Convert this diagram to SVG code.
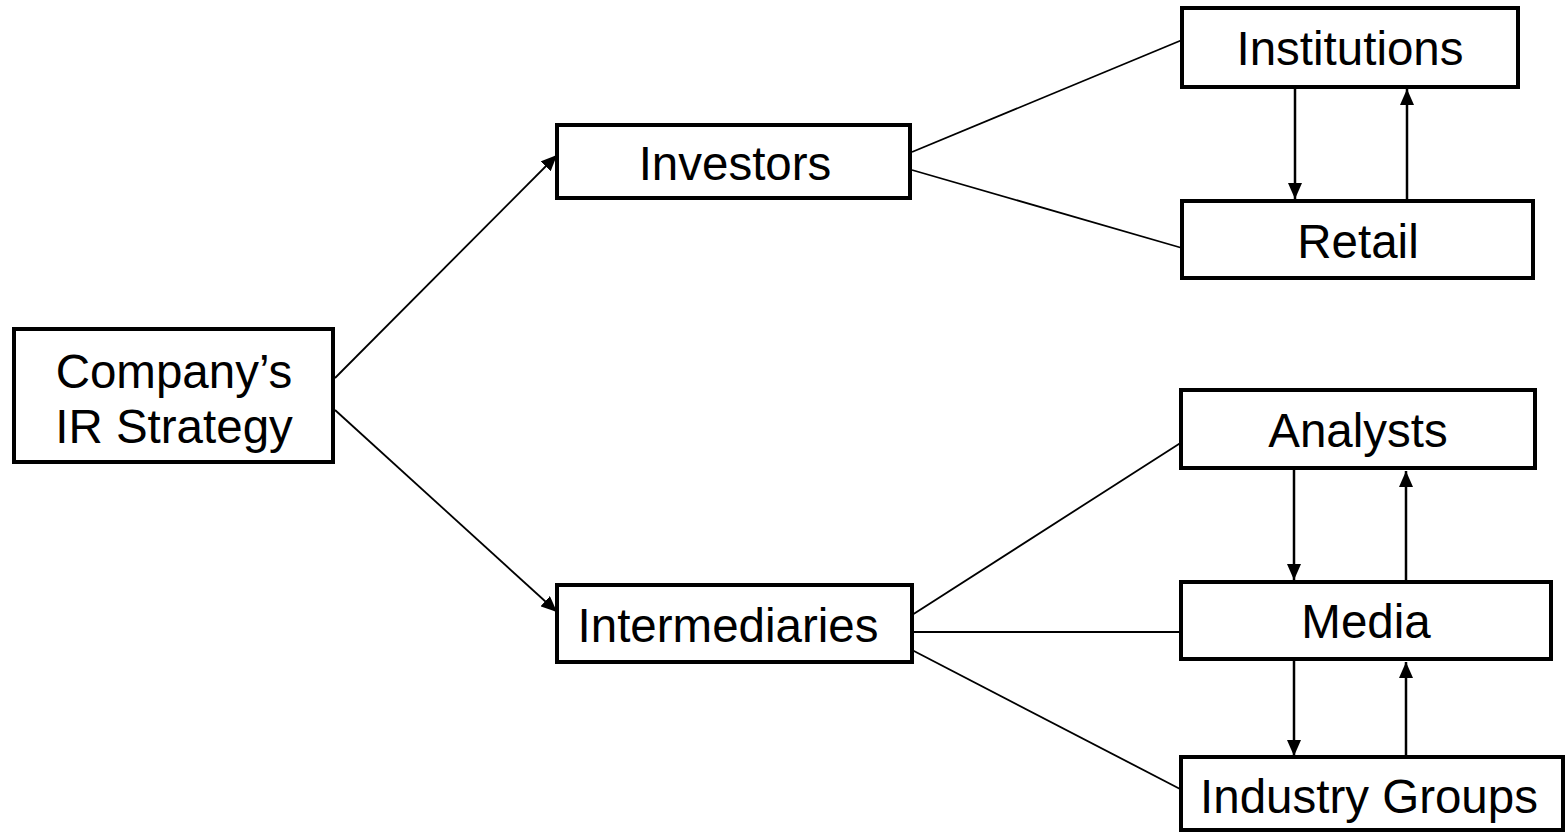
<svg xmlns="http://www.w3.org/2000/svg" width="1566" height="832" viewBox="0 0 1566 832">
<style>
.box{fill:#fff;stroke:#000;stroke-width:4}
.lbl{font-family:"Liberation Sans",Arial,sans-serif;font-size:47.5px;fill:#000;text-anchor:middle}
.ln{stroke:#000;stroke-width:1.8;fill:none}
.ar{stroke:#000;stroke-width:2.5;fill:none;marker-end:url(#ah)}
.ard{stroke:#000;stroke-width:1.8;fill:none;marker-end:url(#ah)}
</style>
<defs>
<marker id="ah" markerUnits="userSpaceOnUse" markerWidth="16" markerHeight="14" viewBox="0 0 16 14" refX="16" refY="7" orient="auto">
<path d="M0,0 L16,7 L0,14 Z" fill="#000"/>
</marker>
</defs>
<rect width="1566" height="832" fill="#fff"/>
<g id="connectors">
<line class="ard" x1="335" y1="378" x2="557" y2="155"/>
<line class="ard" x1="335" y1="410" x2="557" y2="612"/>
<line class="ln" x1="912" y1="152" x2="1182" y2="40"/>
<line class="ln" x1="912" y1="170" x2="1182" y2="248"/>
<line class="ln" x1="912" y1="615" x2="1182" y2="442"/>
<line class="ln" x1="912" y1="632" x2="1182" y2="632"/>
<line class="ln" x1="912" y1="650" x2="1182" y2="790"/>
<line class="ar" x1="1295" y1="88" x2="1295" y2="199"/>
<line class="ar" x1="1407" y1="200" x2="1407" y2="89"/>
<line class="ar" x1="1294" y1="469" x2="1294" y2="580"/>
<line class="ar" x1="1406" y1="582" x2="1406" y2="471"/>
<line class="ar" x1="1294" y1="660" x2="1294" y2="756"/>
<line class="ar" x1="1406" y1="757" x2="1406" y2="662"/>
</g>
<g id="company">
<rect class="box" x="14" y="329" width="319" height="133"/>
<text class="lbl" x="174" y="388">Company’s</text>
<text class="lbl" x="174" y="443">IR Strategy</text>
</g>
<g id="investors">
<rect class="box" x="557" y="125" width="353" height="73"/>
<text class="lbl" x="735" y="180">Investors</text>
</g>
<g id="intermediaries">
<rect class="box" x="557" y="585" width="355" height="77"/>
<text class="lbl" x="728" y="642">Intermediaries</text>
</g>
<g id="institutions">
<rect class="box" x="1182" y="8" width="336" height="79"/>
<text class="lbl" x="1350" y="65">Institutions</text>
</g>
<g id="retail">
<rect class="box" x="1182" y="201" width="351" height="77"/>
<text class="lbl" x="1358" y="258">Retail</text>
</g>
<g id="analysts">
<rect class="box" x="1181" y="390" width="354" height="78"/>
<text class="lbl" x="1358" y="447">Analysts</text>
</g>
<g id="media">
<rect class="box" x="1181" y="582" width="370" height="77"/>
<text class="lbl" x="1366" y="638">Media</text>
</g>
<g id="industry">
<rect class="box" x="1181" y="757" width="382" height="73"/>
<text class="lbl" x="1369" y="813">Industry Groups</text>
</g>
</svg>
